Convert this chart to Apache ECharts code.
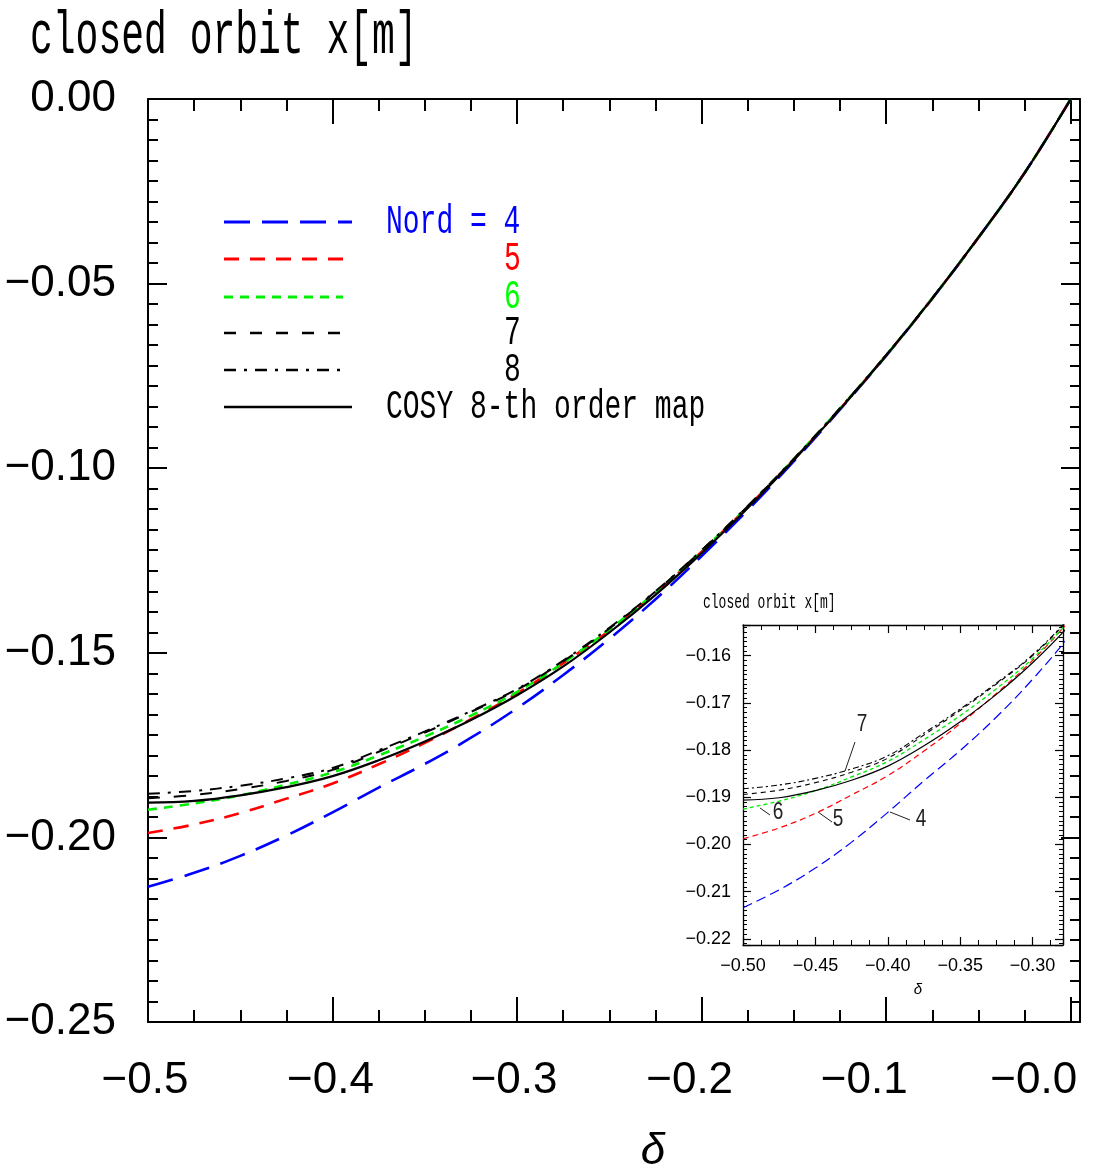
<!DOCTYPE html>
<html>
<head>
<meta charset="utf-8">
<script src="https://cdn.jsdelivr.net/npm/echarts@6/dist/echarts.min.js"></script>
<style>
  html, body { margin: 0; padding: 0; background: #fff; }
  #chart { width: 1116px; height: 1173px; }
</style>
</head>
<body>
<div id="chart"></div>
<script>
// relative momentum deviation
const delta = [-0.5, -0.475, -0.45, -0.425, -0.4, -0.375, -0.35, -0.325, -0.3, -0.275,
  -0.25, -0.225, -0.2, -0.175, -0.15, -0.125, -0.1, -0.075, -0.05, -0.025, 0]

// closed orbit x[m] for each Nord
const nord4 = [-0.2134, -0.2096, -0.2050, -0.1995, -0.1932, -0.1865, -0.1801, -0.1730, -0.1650, -0.1560,
  -0.1462, -0.1355, -0.1238, -0.1113, -0.0981, -0.0841, -0.0695, -0.0540, -0.0375, -0.0200, 0]
const nord5 = [-0.1988, -0.1965, -0.1934, -0.1895, -0.1854, -0.1802, -0.1744, -0.1680, -0.1610, -0.1528,
  -0.1440, -0.1338, -0.1226, -0.1105, -0.0976, -0.0839, -0.0694, -0.0540, -0.0375, -0.0200, 0]
const nord6 = [-0.1925, -0.1908, -0.1886, -0.1857, -0.1824, -0.1778, -0.1727, -0.1670, -0.1606, -0.1527,
  -0.1437, -0.1336, -0.1224, -0.1104, -0.0975, -0.0838, -0.0694, -0.0539, -0.0375, -0.0200, 0]
const nord7 = [-0.1894, -0.1885, -0.1869, -0.1847, -0.1817, -0.1768, -0.1716, -0.1660, -0.1600, -0.1523,
  -0.1434, -0.1334, -0.1223, -0.1103, -0.0975, -0.0838, -0.0693, -0.0539, -0.0375, -0.0200, 0]
const nord8 = [-0.1882, -0.1874, -0.1860, -0.1840, -0.1812, -0.1764, -0.1713, -0.1658, -0.1598, -0.1521,
  -0.1432, -0.1333, -0.1222, -0.1102, -0.0974, -0.0837, -0.0693, -0.0539, -0.0375, -0.0200, 0]
const cosy = [-0.1906, -0.1901, -0.1886, -0.1864, -0.1834, -0.1791, -0.1740, -0.1682, -0.1615, -0.1537,
  -0.1445, -0.1343, -0.1230, -0.1108, -0.0978, -0.0840, -0.0695, -0.0540, -0.0375, -0.0200, 0]

const legendLabels = ['Nord = 4', '5', '6', '7', '8', 'COSY 8-th order map']

const SANS = '"Liberation Sans", Arial, sans-serif'
const MONO = '"Liberation Mono", "DejaVu Sans Mono", monospace'
const MINUS = '\u2212'

const styles = [
  { color: '#0000ff', w: 2.6, dash: [26, 12], iw: 1.2, idash: [10, 5] },
  { color: '#ff0000', w: 2.6, dash: [15, 11], iw: 1.2, idash: [6, 4] },
  { color: '#00ee00', w: 2.6, dash: [9, 7], iw: 1.3, idash: [4, 3] },
  { color: '#000000', w: 2.0, dash: [12, 14], iw: 1.1, idash: [5, 4] },
  { color: '#000000', w: 2.0, dash: [12, 8, 3, 8], iw: 1.1, idash: [6, 3, 2, 3] },
  { color: '#000000', w: 2.2, dash: 'solid', iw: 1.2, idash: 'solid' }
]
const values = [nord4, nord5, nord6, nord7, nord8, cosy]

function pairs(ys) {
  return delta.map((d, i) => [d, ys[i]])
}

function fmtNeg(digits) {
  return function (v) {
    if (Math.abs(v) < 1e-9) return digits === 2 ? '0.00' : MINUS + '0.0'
    return MINUS + Math.abs(v).toFixed(digits)
  }
}

function onStep(v, step) {
  const k = v / step
  return Math.abs(k - Math.round(k)) < 1e-6
}

const blackLine = { onZero: false, lineStyle: { color: '#000', width: 2 } }
const blackTick = (len) => ({ inside: true, length: len, lineStyle: { color: '#000', width: 2 } })
const blackMinor = (n, len) => ({ show: true, splitNumber: n, length: len, lineStyle: { color: '#000', width: 2 } })
const thinLine = { onZero: false, lineStyle: { color: '#000', width: 1.3 } }
const thinTick = (len) => ({ inside: true, length: len, lineStyle: { color: '#000', width: 1.2 } })
const thinMinor = (n, len) => ({ show: true, splitNumber: n, length: len, lineStyle: { color: '#000', width: 1 } })

// main x labels sit a little left of their ticks in the original
const xShift = { '-0.5': 3, '-0.4': 2, '-0.3': 3, '-0.2': 12, '-0.1': 22, '-0.0': 37 }
const xRich = {}
Object.values(xShift).forEach(s => {
  xRich['s' + s] = { fontFamily: SANS, fontSize: 44, color: '#000', padding: [0, 2 * s, 0, 0] }
})

const mainX = {
  type: 'value', gridIndex: 0, min: -0.5, max: 0.005, interval: 0.1,
  axisLine: blackLine, axisTick: blackTick(25), minorTick: blackMinor(4, 12),
  splitLine: { show: false }
}
const mainY = {
  type: 'value', gridIndex: 0, min: -0.25, max: 0, interval: 0.05,
  axisLine: blackLine, axisTick: blackTick(19), minorTick: blackMinor(9, 10),
  splitLine: { show: false }
}
const insetX = {
  type: 'value', gridIndex: 1, min: -0.5, max: -0.279, interval: 0.05,
  axisLine: thinLine, axisTick: thinTick(8), minorTick: thinMinor(4, 5),
  splitLine: { show: false }
}
const insetY = {
  type: 'value', gridIndex: 1, min: -0.2213, max: -0.1535, splitNumber: 7,
  axisLine: thinLine, axisTick: thinTick(8), minorTick: thinMinor(10, 4),
  splitLine: { show: false }
}

const series = []
values.forEach((ys, i) => {
  const st = styles[i]
  series.push({
    type: 'line', xAxisIndex: 0, yAxisIndex: 0, data: pairs(ys), showSymbol: false,
    smooth: 0.4, silent: true,
    lineStyle: { color: st.color, width: st.w, type: st.dash }
  })
  series.push({
    type: 'line', xAxisIndex: 2, yAxisIndex: 2, data: pairs(ys), showSymbol: false,
    smooth: 0.4, silent: true, clip: true,
    lineStyle: { color: st.color, width: st.iw, type: st.idash }
  })
})

// legend drawn by hand: line sample + label
const legendGraphics = []
const rowY = [222, 259, 297, 333, 370, 407]
const lineEnd = [352, 347, 343, 347, 347, 352]
const textColor = ['#0000ff', '#ff0000', '#00ff00', '#000', '#000', '#000']
legendLabels.forEach((t, i) => {
  const st = styles[i]
  legendGraphics.push({
    type: 'line', shape: { x1: 224, y1: rowY[i], x2: lineEnd[i], y2: rowY[i] },
    style: { stroke: st.color, lineWidth: st.w + 0.4, lineDash: st.dash === 'solid' ? null : st.dash }
  })
  legendGraphics.push({
    type: 'text', x: t.length === 1 ? 504 : 386, y: rowY[i], scaleY: 1.45,
    style: { text: t, font: '28px ' + MONO, fill: textColor[i], textAlign: 'left', textVerticalAlign: 'middle' }
  })
})

// inset annotations: label + leader
const notes = [
  { t: '7', x: 862, y: 724, l: [855, 742, 845, 771] },
  { t: '6', x: 778, y: 812, l: [760, 808, 770, 815] },
  { t: '5', x: 838, y: 819, l: [818, 812, 832, 822] },
  { t: '4', x: 921, y: 819, l: [890, 812, 910, 820] }
]
const noteGraphics = []
notes.forEach(n => {
  noteGraphics.push({
    type: 'text', x: n.x, y: n.y, scaleY: 1.25,
    style: { text: n.t, font: '19px ' + SANS, fill: '#222', textAlign: 'center', textVerticalAlign: 'middle' }
  })
  noteGraphics.push({
    type: 'line', shape: { x1: n.l[0], y1: n.l[1], x2: n.l[2], y2: n.l[3] },
    style: { stroke: '#222', lineWidth: 1 }
  })
})

const chart = echarts.init(document.getElementById('chart'), null, { renderer: 'canvas' })

const option = {
  backgroundColor: '#fff',
  animation: false,
  grid: [
    { left: 148, top: 99, right: 36, bottom: 151, containLabel: false, outerBoundsMode: 'none' },
    { left: 743, top: 625, right: 53, bottom: 228, containLabel: false, outerBoundsMode: 'none' }
  ],
  xAxis: [
    Object.assign({}, mainX, {
      position: 'bottom',
      axisLabel: {
        margin: 37, fontFamily: SANS, fontSize: 44, color: '#000', rich: xRich,
        formatter: v => {
          if (!onStep(v, 0.1)) return ''
          const key = '-' + Math.abs(v).toFixed(1)
          return '{s' + xShift[key] + '|' + fmtNeg(1)(v) + '}'
        }
      }
    }),
    Object.assign({}, mainX, { position: 'top', axisLabel: { show: false } }),
    Object.assign({}, insetX, {
      position: 'bottom',
      axisLabel: {
        margin: 12, fontFamily: SANS, fontSize: 18, color: '#000',
        formatter: v => onStep(v, 0.05) ? fmtNeg(2)(v) : ''
      }
    }),
    Object.assign({}, insetX, { position: 'top', axisLabel: { show: false } })
  ],
  yAxis: [
    Object.assign({}, mainY, {
      position: 'left',
      axisLabel: {
        margin: 32, fontFamily: SANS, fontSize: 44, color: '#000',
        formatter: v => onStep(v, 0.05) ? fmtNeg(2)(v) : ''
      }
    }),
    Object.assign({}, mainY, { position: 'right', axisLabel: { show: false } }),
    Object.assign({}, insetY, {
      position: 'left',
      axisLabel: {
        margin: 12, fontFamily: SANS, fontSize: 18, color: '#000',
        formatter: v => onStep(v, 0.01) ? fmtNeg(2)(v) : ''
      }
    }),
    Object.assign({}, insetY, { position: 'right', axisLabel: { show: false } })
  ],
  graphic: [
    {
      type: 'text', x: 30, y: 37, scaleY: 1.6,
      style: { text: 'closed orbit x[m]', font: '38px ' + MONO, fill: '#000', textAlign: 'left', textVerticalAlign: 'middle' }
    },
    {
      type: 'text', x: 653, y: 1152,
      style: { text: '\u03b4', font: 'italic 44px ' + SANS, fill: '#000', textAlign: 'center', textVerticalAlign: 'middle' }
    },
    {
      type: 'text', x: 703, y: 603, scaleY: 1.5,
      style: { text: 'closed orbit x[m]', font: '13px ' + MONO, fill: '#000', textAlign: 'left', textVerticalAlign: 'middle' }
    },
    {
      type: 'text', x: 918, y: 990,
      style: { text: '\u03b4', font: 'italic 15px ' + SANS, fill: '#000', textAlign: 'center', textVerticalAlign: 'middle' }
    }
  ].concat(legendGraphics, noteGraphics),
  series: series
}

chart.setOption(option)

window.addEventListener('resize', () => {
  chart.resize()
})
</script>
</body>
</html>
